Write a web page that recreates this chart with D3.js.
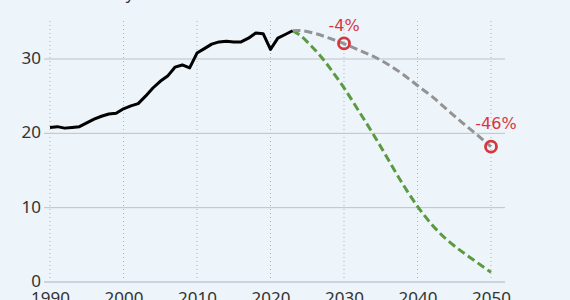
<!DOCTYPE html>
<html>
<head>
<meta charset="utf-8">
<script src="https://cdn.jsdelivr.net/npm/d3@7"></script>
<style>
  html, body { margin: 0; padding: 0; background: #edf4fa; }
  svg { display: block; font-family: "Noto Sans", sans-serif; }
</style>
</head>
<body>
<svg width="570" height="300"></svg>
<script>
// historical emissions (Gt/y)
var histYears = [1990,1991,1992,1993,1994,1995,1996,1997,1998,1999,2000,2001,2002,2003,2004,2005,2006,2007,2008,2009,2010,2011,2012,2013,2014,2015,2016,2017,2018,2019,2020,2021,2022,2023];
var histValues = [20.8,20.9,20.7,20.8,20.9,21.4,21.9,22.3,22.6,22.7,23.3,23.7,24.0,25.0,26.1,27.0,27.7,28.9,29.2,28.8,30.8,31.4,32.0,32.3,32.4,32.3,32.3,32.8,33.5,33.4,31.3,32.8,33.3,33.8];

// current policies path
var policyYears = [2023,2024,2026,2028,2030,2032,2034,2036,2038,2040,2042,2044,2046,2048,2050];
var policyValues = [33.8,33.9,33.5,32.8,32.1,31.2,30.4,29.3,28.0,26.4,25.0,23.2,21.5,19.9,18.2];

// net zero path
var netZeroYears = [2023,2024,2025,2026,2027,2028,2030,2032,2034,2036,2038,2040,2042,2044,2046,2048,2050];
var netZeroValues = [33.8,33.3,32.3,31.3,30.2,28.9,26.2,23.0,19.9,16.5,13.1,10.1,7.6,5.6,4.1,2.7,1.3];

// highlighted points
var markerYears = [2030, 2050];
var markerValues = [32.1, 18.2];
var markerLabels = ["-4%", "-46%"];

var xTicks = [1990,2000,2010,2020,2030,2040,2050];
var yTicks = [0,10,20,30];

// label placement relative to marker (layout only)
var labelShift = [[0, -12], [5, -18]];

var svg = d3.select("svg"),
    width = +svg.attr("width"),
    height = +svg.attr("height");

var x = d3.scaleLinear().domain([1990, 2050]).range([50, 491]);
var y = d3.scaleLinear().domain([0, 30]).range([282, 59]);

// unit label (cut at the top)
svg.append("text")
    .attr("x", 134)
    .attr("y", -1)
    .attr("text-anchor", "end")
    .style("font-size", "16px")
    .style("fill", "#333")
    .text("Gt/y");

//------- grid
svg.append("g")
    .selectAll("line")
    .data(xTicks)
    .enter().append("line")
      .attr("x1", function(d) { return x(d); })
      .attr("x2", function(d) { return x(d); })
      .attr("y1", 21)
      .attr("y2", 281)
      .style("stroke", "#adb2b8")
      .style("stroke-width", 1)
      .style("stroke-dasharray", "1,3");

svg.append("g")
    .selectAll("line")
    .data(yTicks)
    .enter().append("line")
      .attr("x1", 44)
      .attr("x2", 505)
      .attr("y1", function(d) { return y(d); })
      .attr("y2", function(d) { return y(d); })
      .style("stroke", function(d) { return d == 0 ? "#cdd3da" : "#bcc2c9"; })
      .style("stroke-width", function(d) { return d == 0 ? 2 : 1; });

// axes labels
var yAxis = svg.append("g")
    .attr("transform", "translate(43,-1)")
    .call(d3.axisLeft(y).tickValues(yTicks).tickSize(0).tickPadding(2));
yAxis.select(".domain").remove();
yAxis.selectAll("text")
    .style("font-family", "'Noto Sans', sans-serif")
    .style("font-size", "17px")
    .style("fill", "#333");

var xAxis = svg.append("g")
    .attr("transform", "translate(0,290)")
    .call(d3.axisBottom(x).tickValues(xTicks).tickFormat(d3.format("d")).tickSize(0).tickPadding(0));
xAxis.select(".domain").remove();
xAxis.selectAll("text")
    .attr("dy", "0.85em")
    .style("font-family", "'Noto Sans', sans-serif")
    .style("font-size", "17px")
    .style("fill", "#333");

//------- lines
var line = d3.line()
    .x(function(d) { return x(d[0]); })
    .y(function(d) { return y(d[1]); })
    .curve(d3.curveBasis);

var netZero = d3.zip(netZeroYears, netZeroValues);
var policy = d3.zip(policyYears, policyValues);
var hist = d3.zip(histYears, histValues);

svg.append("path")
    .datum(netZero)
    .attr("d", line)
    .style("fill", "none")
    .style("stroke", "#5b9a40")
    .style("stroke-width", 3)
    .style("stroke-dasharray", "8,4");

svg.append("path")
    .datum(policy)
    .attr("d", line)
    .style("fill", "none")
    .style("stroke", "#939393")
    .style("stroke-width", 3)
    .style("stroke-dasharray", "8,4");

svg.append("path")
    .datum(hist)
    .attr("d", line.curve(d3.curveLinear))
    .style("fill", "none")
    .style("stroke", "#000")
    .style("stroke-width", 3)
    .style("stroke-linejoin", "round");

//------- markers
var markers = d3.zip(markerYears, markerValues, markerLabels, labelShift);

svg.append("g")
    .selectAll("circle")
    .data(markers)
    .enter().append("circle")
      .attr("cx", function(d) { return x(d[0]); })
      .attr("cy", function(d) { return y(d[1]); })
      .attr("r", 5.5)
      .style("fill", "none")
      .style("stroke", "#d6373f")
      .style("stroke-width", 2.8);

svg.append("g")
    .selectAll("text")
    .data(markers)
    .enter().append("text")
      .attr("x", function(d) { return x(d[0]) + d[3][0]; })
      .attr("y", function(d) { return y(d[1]) + d[3][1]; })
      .attr("text-anchor", "middle")
      .style("font-family", "'DejaVu Sans', sans-serif")
      .style("font-size", "16px")
      .style("fill", "#d6373f")
      .text(function(d) { return d[2]; });
</script>
</body>
</html>
